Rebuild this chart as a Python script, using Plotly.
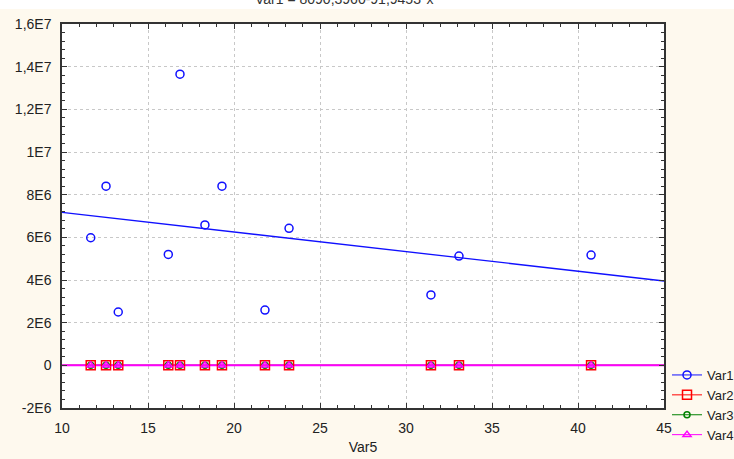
import numpy as np
import plotly.graph_objects as go

# ---- data ----
var5 = [11.67, 12.56, 13.27, 16.18, 16.86, 18.31, 19.30, 21.80, 23.20, 31.45, 33.08, 40.76]
var1 = [5.98e6, 8.40e6, 2.50e6, 5.20e6, 13.65e6, 6.58e6, 8.40e6, 2.59e6, 6.42e6, 3.30e6, 5.12e6, 5.17e6]
var2 = [0, 0, 0, 0, 0, 0, 0, 0, 0, 0, 0, 0]
var3 = [0, 0, 0, 0, 0, 0, 0, 0, 0, 0, 0, 0]
var4 = [0, 0, 0, 0, 0, 0, 0, 0, 0, 0, 0, 0]

series_names = ["Var1", "Var2", "Var3", "Var4"]
series_vals = [var1, var2, var3, var4]
series_colors = ["#1010ff", "#ff0000", "#008000", "#ff00ff"]
series_symbols = ["circle-open", "square-open", "circle-open", "triangle-up-open"]
series_sizes = [8, 9, 6, 7]
line_widths = [1.3, 1.3, 1.3, 2.0]

y_tickvals = [-2e6, 0, 2e6, 4e6, 6e6, 8e6, 1e7, 1.2e7, 1.4e7, 1.6e7]
y_ticktext = ["-2E6", "0", "2E6", "4E6", "6E6", "8E6", "1E7", "1,2E7", "1,4E7", "1,6E7"]
x_tickvals = [10, 15, 20, 25, 30, 35, 40, 45]

title_text = "Var1 = 8090,3960-91,9453*x"

fig = go.Figure()
xfit = np.array([10, 45])
# regression lines (Var4 drawn last, on top)
for name, vals, col, lw in zip(series_names, series_vals, series_colors, line_widths):
    k, b = np.polyfit(var5, vals, 1)
    fig.add_trace(go.Scatter(x=xfit, y=k * xfit + b, mode="lines",
                             line=dict(color=col, width=lw), showlegend=False, hoverinfo="skip"))
# markers
for name, vals, col, sym, sz in zip(series_names, series_vals, series_colors, series_symbols, series_sizes):
    fig.add_trace(go.Scatter(x=var5, y=vals, mode="markers", name=name, showlegend=False,
                             marker=dict(symbol=sym, size=sz, color=col, line=dict(width=1.5, color=col))))
# legend entries
for name, col, sym, sz in zip(series_names, series_colors, series_symbols, series_sizes):
    fig.add_trace(go.Scatter(x=[None], y=[None], mode="lines+markers", name=name,
                             line=dict(color=col, width=1),
                             marker=dict(symbol=sym, size=sz, color=col, line=dict(width=1.5, color=col))))

font = dict(family="Liberation Sans, Arial, sans-serif", size=14, color="#222222")

fig.update_layout(
    width=734, height=459,
    margin=dict(l=62, r=70, t=24, b=51, autoexpand=False),
    paper_bgcolor="#FEF9EE",
    plot_bgcolor="#FFFFFF",
    font=font,
    showlegend=True,
    legend=dict(x=1.005, y=0.125, xanchor="left", yanchor="top",
                bgcolor="rgba(0,0,0,0)", font=dict(size=13, color="#222222"),
                tracegroupgap=0, itemwidth=30),
    xaxis=dict(range=[10, 45], tickvals=x_tickvals, ticks="inside", ticklen=5,
               tickcolor="#333333", showline=True, linecolor="#333333", linewidth=1.5,
               mirror="allticks", showgrid=True, gridcolor="#c8c8c8", griddash="dot", gridwidth=1,
               zeroline=False, ticklabelstandoff=6,
               minor=dict(dtick=1, ticks="inside", ticklen=3, tickcolor="#333333", showgrid=False),
               title=dict(text="Var5", standoff=8, font=font)),
    yaxis=dict(range=[-2e6, 1.6e7], tickvals=y_tickvals, ticktext=y_ticktext, ticks="inside",
               ticklen=5, tickcolor="#333333", showline=True, linecolor="#333333", linewidth=1.5,
               mirror="allticks", showgrid=True, gridcolor="#c8c8c8", griddash="dot", gridwidth=1,
               zeroline=False, ticklabelstandoff=6,
               minor=dict(dtick=4e5, tick0=0, ticks="inside", ticklen=3, tickcolor="#333333", showgrid=False)),
    shapes=[dict(type="rect", xref="paper", yref="paper", x0=-0.2, x1=1.2, y0=1.039, y1=1.2,
                 fillcolor="#FFFFFF", line=dict(width=0), layer="below")],
    annotations=[dict(text=title_text, xref="paper", yref="paper", x=0.468, y=1.064,
                      xanchor="center", yanchor="middle", showarrow=False,
                      font=dict(family="Liberation Sans, Arial, sans-serif", size=14, color="#333333"))],
)

fig.write_html("out.html", config={"displayModeBar": False},
               post_script="document.body.style.margin='0';")
